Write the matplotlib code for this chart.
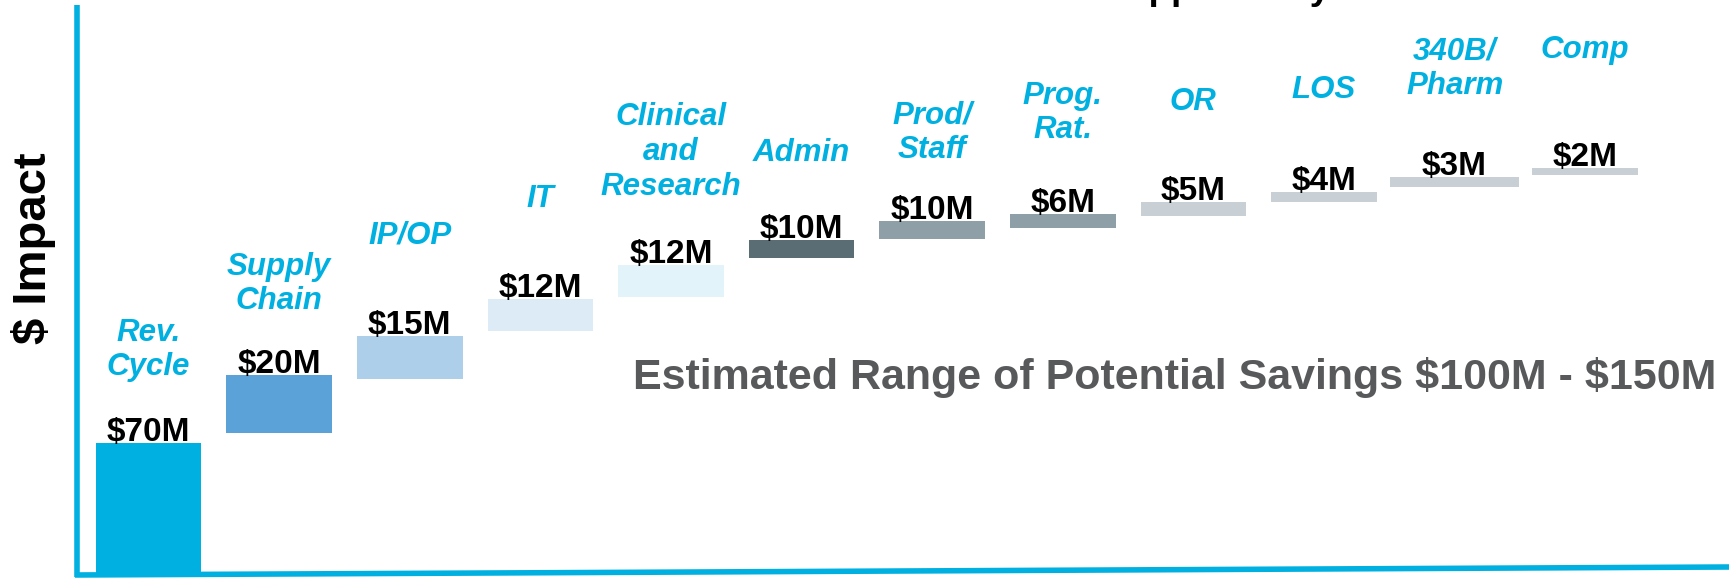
import numpy as np
import matplotlib
matplotlib.use("Agg")
import matplotlib.pyplot as plt

plt.rcParams['font.family'] = ['Liberation Sans', 'DejaVu Sans']
plt.rcParams['text.parse_math'] = False

# ---------- data ----------
categories = ["Rev.\nCycle", "Supply\nChain", "IP/OP", "IT", "Clinical\nand\nResearch",
              "Admin", "Prod/\nStaff", "Prog.\nRat.", "OR", "LOS", "340B/\nPharm", "Comp"]
value_labels = ["$70M", "$20M", "$15M", "$12M", "$12M", "$10M",
                "$10M", "$6M", "$5M", "$4M", "$3M", "$2M"]
# the steps are drawn stylised, not to scale: base / size in drawing units
bar_base = [0, 140, 194, 242, 276, 315, 334, 345, 357, 371, 386, 398]
bar_size = [130, 58, 43, 32, 32, 18, 18, 14, 14, 10, 10, 7]

# ---------- styling ----------
CYAN = "#00B0E0"
bar_colors = ["#00B0E0", "#5BA2D8", "#ADCFEA", "#DDEBF6", "#E2F4FA", "#5A6C74",
              "#8E9FA7", "#8E9FA7", "#C8D0D6", "#C8D0D6", "#C8D0D6", "#C8D0D6"]
bar_widths = [0.81] * 12
bar_widths[10] = 0.99
label_gap = [93, 91, 101, 100, 113, 87, 88, 101, 100, 102, 108, 118]

W, H = 1729, 578
fig = plt.figure(figsize=(W / 100, H / 100), dpi=100)
ax = fig.add_axes([0, 0, 1, 1])

x = np.arange(len(categories))
step = 130.6           # px per category
x0 = 148.6             # px of first category centre
ax.set_xlim(-x0 / step, (W - x0) / step)
ax.set_ylim(-5, H - 5)
ax.axis("off")

ax.bar(x, bar_size, bottom=bar_base, width=bar_widths, color=bar_colors,
       edgecolor="none", zorder=2)

tops = np.array(bar_base) + np.array(bar_size)
for xi, top, val, cat, gap in zip(x, tops, value_labels, categories, label_gap):
    ax.text(xi, top + 2, val, ha="center", va="baseline", fontsize=24,
            fontweight="bold", color="black", zorder=3)
    ax.text(xi, top + gap, cat, ha="center", va="center", fontsize=22.5,
            fontweight="bold", style="italic", color=CYAN, linespacing=1.2,
            zorder=3)

# hand-drawn looking axes
ax.plot([77 / W, 77 / W], [1 / H, 1 - 5 / H], transform=ax.transAxes,
        color=CYAN, lw=4, solid_capstyle="butt", clip_on=False)
ax.plot([75 / W, 1.0], [3 / H, 11 / H], transform=ax.transAxes,
        color=CYAN, lw=4, solid_capstyle="butt", clip_on=False)

fig.text(34 / W, 1 - 248 / H, "$ Impact", rotation=90, ha="center", va="center",
         fontsize=34, fontweight="bold", color="black")
fig.text(1716 / W, 1 - 377 / H, "Estimated Range of Potential Savings $100M - $150M",
         ha="right", va="center", fontsize=31, fontweight="bold", color="#58595B")
# title sits above the crop; only its descenders show
fig.text(1120 / W, 1 + 1 / H, "Opportunity", ha="left", va="baseline",
         fontsize=26.5, fontweight="bold", color="black")

fig.savefig("out.png", dpi=100)
